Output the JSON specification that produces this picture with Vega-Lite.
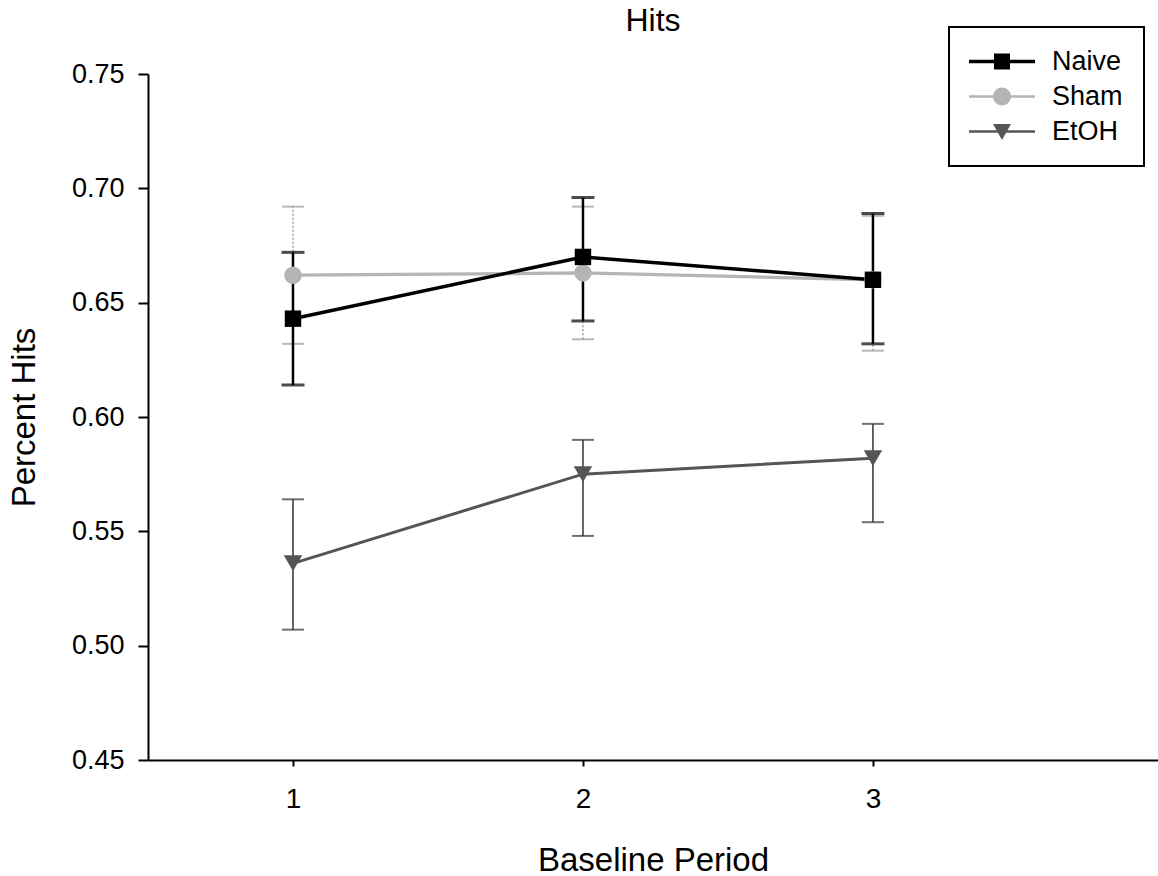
{
  "$schema": "https://vega.github.io/schema/vega-lite/v6.json",
  "width": 1010,
  "height": 686,
  "autosize": "none",
  "padding": {"left": 148, "top": 74, "right": 0, "bottom": 116},
  "background": "white",
  "config": {
    "font": "Liberation Sans",
    "view": {"stroke": null},
    "axis": {"grid": false, "domainColor": "black", "tickColor": "black", "labelColor": "black", "titleColor": "black", "labelFont": "Liberation Sans", "titleFont": "Liberation Sans", "titleFontWeight": "normal"}
  },
  "title": {"text": "Hits", "fontSize": 32, "fontWeight": "normal", "font": "Liberation Sans", "color": "black", "anchor": "middle", "offset": -12},
  "data": {
    "values": [
      {"series": "EtOH", "period": 1, "mean": 0.536, "lower": 0.507, "upper": 0.564},
      {"series": "EtOH", "period": 2, "mean": 0.575, "lower": 0.548, "upper": 0.590},
      {"series": "EtOH", "period": 3, "mean": 0.582, "lower": 0.554, "upper": 0.597},
      {"series": "Sham", "period": 1, "mean": 0.662, "lower": 0.632, "upper": 0.692},
      {"series": "Sham", "period": 2, "mean": 0.663, "lower": 0.634, "upper": 0.692},
      {"series": "Sham", "period": 3, "mean": 0.660, "lower": 0.629, "upper": 0.688},
      {"series": "Naive", "period": 1, "mean": 0.643, "lower": 0.614, "upper": 0.672},
      {"series": "Naive", "period": 2, "mean": 0.670, "lower": 0.642, "upper": 0.696},
      {"series": "Naive", "period": 3, "mean": 0.660, "lower": 0.632, "upper": 0.689}
    ]
  },
  "encoding": {
    "x": {
      "field": "period", "type": "quantitative", "title": "Baseline Period",
      "scale": {"domain": [0.5, 3.983], "nice": false, "zero": false},
      "axis": {"values": [1, 2, 3], "format": "d", "tickSize": 6, "tickWidth": 2, "domainWidth": 2, "labelFontSize": 28, "labelPadding": 19, "titleFontSize": 33, "titlePadding": 31, "labelFlush": false, "labelOverlap": false}
    }
  },
  "layer": [
    {
      "transform": [{"filter": "datum.series === 'EtOH'"}],
      "mark": {"type": "errorbar", "ticks": {"size": 22, "thickness": 2, "color": "#333333"}, "rule": {"strokeWidth": 1.5, "color": "#333333"}},
      "encoding": {
        "y": {"field": "lower", "type": "quantitative", "title": "Percent Hits", "scale": {"domain": [0.45, 0.75], "nice": false, "zero": false}},
        "y2": {"field": "upper"}
      }
    },
    {
      "transform": [{"filter": "datum.series === 'Sham'"}],
      "mark": {"type": "errorbar", "ticks": {"size": 22, "thickness": 2, "color": "#9a9a9a", "strokeDash": [2, 1]}, "rule": {"strokeWidth": 1.5, "color": "#9a9a9a", "strokeDash": [2, 2]}},
      "encoding": {
        "y": {"field": "lower", "type": "quantitative", "title": "Percent Hits", "scale": {"domain": [0.45, 0.75], "nice": false, "zero": false}},
        "y2": {"field": "upper"}
      }
    },
    {
      "transform": [{"filter": "datum.series === 'Naive'"}],
      "mark": {"type": "errorbar", "ticks": {"size": 23, "thickness": 3, "color": "black"}, "rule": {"strokeWidth": 2.5, "color": "black"}},
      "encoding": {
        "y": {"field": "lower", "type": "quantitative", "title": "Percent Hits", "scale": {"domain": [0.45, 0.75], "nice": false, "zero": false}},
        "y2": {"field": "upper"}
      }
    },
    {
      "mark": {"type": "line"},
      "encoding": {
        "y": {
          "field": "mean", "type": "quantitative", "title": "Percent Hits",
          "scale": {"domain": [0.45, 0.75], "nice": false, "zero": false},
          "axis": {"values": [0.45, 0.5, 0.55, 0.6, 0.65, 0.7, 0.75], "format": ".2f", "tickSize": 10, "tickWidth": 2, "domainWidth": 2, "labelFontSize": 27, "labelPadding": 14, "titleFontSize": 33, "titlePadding": 30, "labelOverlap": false}
        },
        "color": {"field": "series", "type": "nominal", "scale": {"domain": ["Naive", "Sham", "EtOH"], "range": ["#000000", "#b4b4b4", "#555555"]}, "legend": null},
        "strokeWidth": {"field": "series", "type": "nominal", "scale": {"domain": ["Naive", "Sham", "EtOH"], "range": [3.5, 3, 2.5]}, "legend": null}
      }
    },
    {
      "mark": {"type": "point", "filled": true, "opacity": 1},
      "encoding": {
        "y": {"field": "mean", "type": "quantitative", "title": "Percent Hits", "scale": {"domain": [0.45, 0.75], "nice": false, "zero": false}},
        "color": {"field": "series", "type": "nominal", "scale": {"domain": ["Naive", "Sham", "EtOH"], "range": ["#000000", "#b4b4b4", "#555555"]}, "legend": null},
        "shape": {"field": "series", "type": "nominal", "scale": {"domain": ["Naive", "Sham", "EtOH"], "range": ["square", "circle", "triangle-down"]}, "legend": null},
        "size": {"field": "series", "type": "nominal", "scale": {"domain": ["Naive", "Sham", "EtOH"], "range": [270, 340, 320]}, "legend": null}
      }
    },
    {
      "mark": {"type": "point", "filled": true, "opacity": 0, "size": 400},
      "encoding": {
        "y": {"field": "mean", "type": "quantitative", "title": "Percent Hits", "scale": {"domain": [0.45, 0.75], "nice": false, "zero": false}},
        "color": {
          "field": "series", "type": "nominal",
          "scale": {"domain": ["Naive", "Sham", "EtOH"], "range": ["#000000", "#b4b4b4", "#555555"]},
          "legend": {"title": null, "orient": "none", "legendX": 801, "legendY": -47, "padding": 21, "strokeColor": "black", "labelFontSize": 27, "labelFont": "Liberation Sans", "labelColor": "black", "symbolSize": 400, "labelOffset": 55, "rowPadding": 7, "symbolOpacity": 1, "symbolStrokeWidth": 0, "encode": {"legend": {"update": {"strokeWidth": {"value": 2}}}, "symbols": {"update": {"x": {"value": 32}}}}}
        },
        "shape": {
          "field": "series", "type": "nominal",
          "scale": {"domain": ["Naive", "Sham", "EtOH"], "range": ["M-3.3,-0.17H3.3V0.17H-3.3Z M-0.8,-0.8H0.8V0.8H-0.8Z", "M-3.3,-0.12H3.3V0.12H-3.3Z M-0.9,0A0.9,0.9 0 1,1 0.9,0A0.9,0.9 0 1,1 -0.9,0Z", "M-3.3,-0.12H3.3V0.12H-3.3Z M-0.9,-0.75H0.9L0,0.85Z"]},
          "legend": {"title": null, "orient": "none", "legendX": 801, "legendY": -47, "padding": 21, "strokeColor": "black", "labelFontSize": 27, "labelFont": "Liberation Sans", "labelColor": "black", "symbolSize": 400, "labelOffset": 55, "rowPadding": 7, "symbolOpacity": 1, "symbolStrokeWidth": 0, "encode": {"legend": {"update": {"strokeWidth": {"value": 2}}}, "symbols": {"update": {"x": {"value": 32}}}}}
        }
      }
    }
  ],
  "resolve": {
    "scale": {"color": "independent", "shape": "independent", "size": "independent", "strokeWidth": "independent"},
    "legend": {"color": "independent", "shape": "independent"}
  }
}
